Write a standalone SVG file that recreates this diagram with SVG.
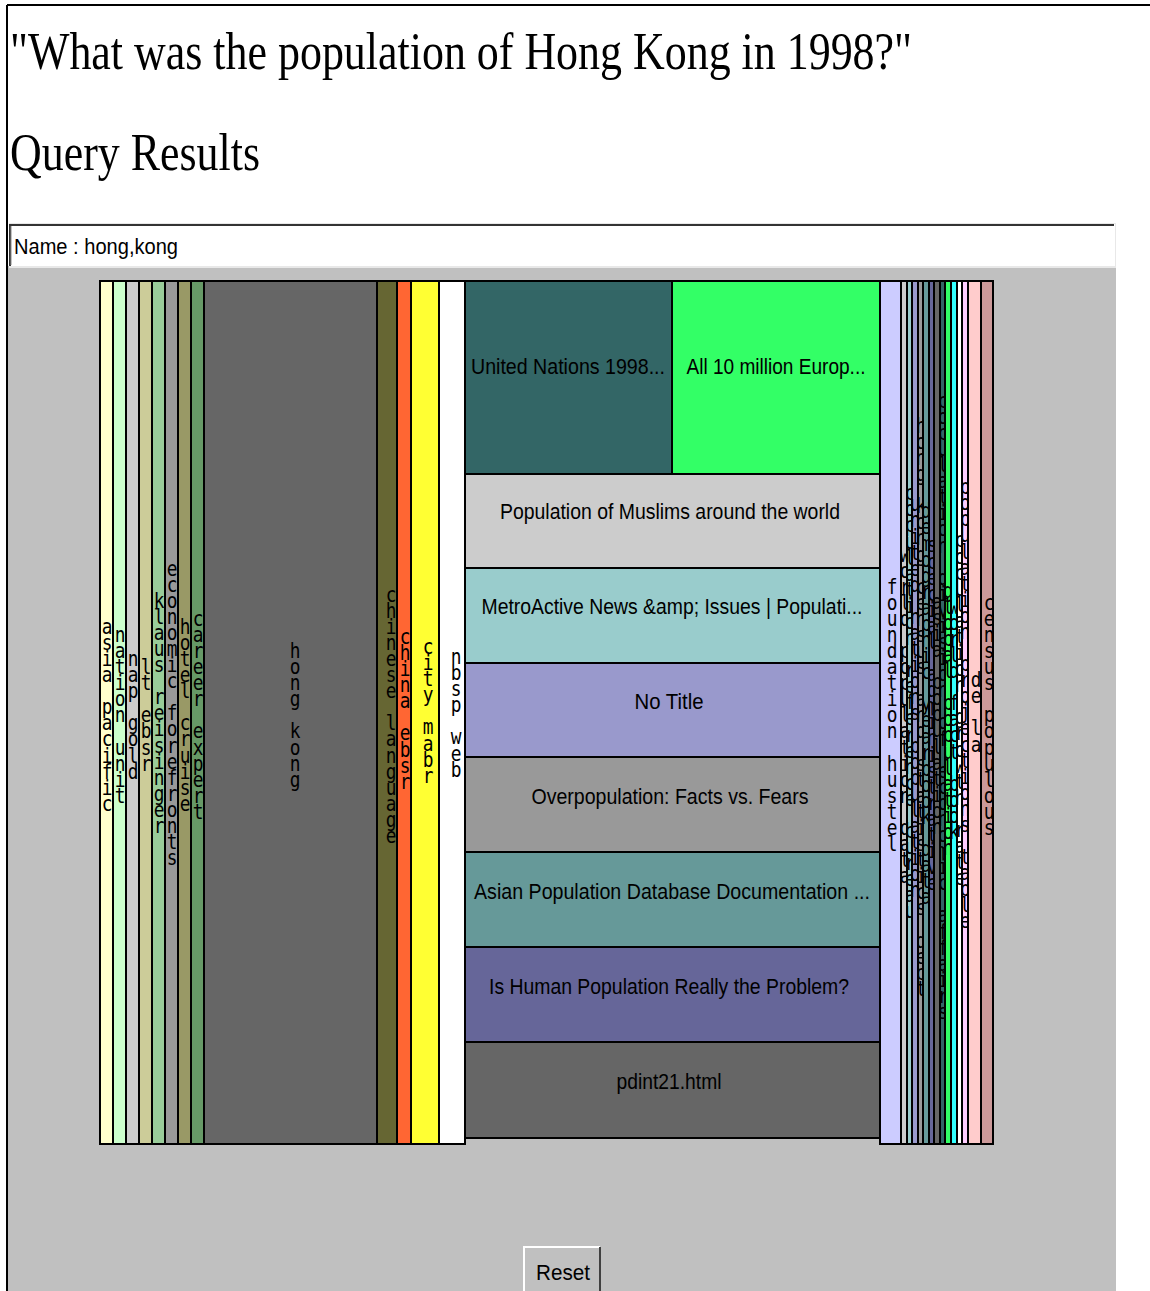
<svg xmlns="http://www.w3.org/2000/svg" width="1150" height="1291" viewBox="0 0 1150 1291">
  <style>
    .serif { font-family: "Liberation Serif", "Times New Roman", serif; fill: #000; }
    .ui { font-family: "Liberation Sans", Arial, sans-serif; font-size: 22px; fill: #000; }
    .lbl { font-family: "Liberation Sans", Arial, sans-serif; font-size: 22px; fill: #000; text-anchor: middle; }
    .c { stroke: #000; stroke-width: 2; }
    .v { font-family: "DejaVu Sans Mono", monospace; font-size: 21px; writing-mode: vertical-rl; text-orientation: upright; text-anchor: middle; letter-spacing: -8.7px; fill: #000; }
  </style>

  <!-- page -->
  <rect x="0" y="0" width="1150" height="1291" fill="#fff"/>
  <line x1="7" y1="5" x2="1150" y2="5" stroke="#000" stroke-width="2"/>
  <line x1="7" y1="5" x2="7" y2="1291" stroke="#000" stroke-width="2"/>

  <g id="heading">
    <text class="serif" transform="translate(10,69) scale(1,1.1)" font-size="48" textLength="902" lengthAdjust="spacingAndGlyphs">"What was the population of Hong Kong in 1998?"</text>
    <text class="serif" transform="translate(10,170) scale(1,1.1)" font-size="48" textLength="250" lengthAdjust="spacingAndGlyphs">Query Results</text>
  </g>

  <!-- applet panel -->
  <rect x="8" y="266" width="1108" height="1025" fill="#c0c0c0"/>

  <g id="query-field">
    <rect x="9" y="223" width="1107" height="45" fill="#e8e8e8"/>
    <rect x="10" y="224" width="1105" height="42" fill="#fff"/>
    <path d="M10 266 V225 H1114" fill="none" stroke="#333" stroke-width="2"/>
    <path d="M11 265 V226" fill="none" stroke="#888" stroke-width="1"/>
    <text class="ui" x="14" y="254" textLength="164" lengthAdjust="spacingAndGlyphs">Name : hong,kong</text>
  </g>

  <!-- treemap of result groups; narrow labels sit in clipping viewports -->
  <g id="treemap">
    <g id="n-asia-pacific"><rect class="c" x="100" y="281" width="13" height="863" fill="#ffffcc"/>
      <svg x="101" y="281" width="12" height="862" overflow="hidden"><text class="v" transform="translate(6,430) scale(0.85,1)">asia pacific</text></svg></g>
    <g id="n-nation-unit"><rect class="c" x="113" y="281" width="13" height="863" fill="#ccffcc"/>
      <svg x="114" y="281" width="12" height="862" overflow="hidden"><text class="v" transform="translate(6,430) scale(0.85,1)">nation unit</text></svg></g>
    <g id="n-nap-gold"><rect class="c" x="126" y="281" width="13" height="863" fill="#cccccc"/>
      <svg x="127" y="281" width="12" height="862" overflow="hidden"><text class="v" transform="translate(6,430) scale(0.85,1)">nap gold</text></svg></g>
    <g id="n-lt-ebsr"><rect class="c" x="139" y="281" width="13" height="863" fill="#cccc99"/>
      <svg x="140" y="281" width="12" height="862" overflow="hidden"><text class="v" transform="translate(6,430) scale(0.85,1)">lt ebsr</text></svg></g>
    <g id="n-klaus"><rect class="c" x="152" y="281" width="13" height="863" fill="#99cc99"/>
      <svg x="153" y="281" width="12" height="862" overflow="hidden"><text class="v" transform="translate(6,428) scale(0.85,1)">klaus reisinger</text></svg></g>
    <g id="n-economic"><rect class="c" x="165" y="281" width="13" height="863" fill="#999999"/>
      <svg x="166" y="281" width="12" height="862" overflow="hidden"><text class="v" transform="translate(6,428) scale(0.85,1)">economic forefronts</text></svg></g>
    <g id="n-hotel"><rect class="c" x="178" y="281" width="13" height="863" fill="#999966"/>
      <svg x="179" y="281" width="12" height="862" overflow="hidden"><text class="v" transform="translate(6,430) scale(0.85,1)">hotel cruise</text></svg></g>
    <g id="n-career"><rect class="c" x="191" y="281" width="13" height="863" fill="#669966"/>
      <svg x="192" y="281" width="12" height="862" overflow="hidden"><text class="v" transform="translate(6,430) scale(0.85,1)">career expert</text></svg></g>
    <g id="n-hong-kong"><rect class="c" x="204" y="281" width="173" height="863" fill="#666666"/>
      <text class="v" transform="translate(295,711) scale(0.85,1)">hong kong</text></g>
    <g id="n-chinese-language"><rect class="c" x="377" y="281" width="20" height="863" fill="#666633"/>
      <svg x="378" y="281" width="19" height="862" overflow="hidden"><text class="v" transform="translate(13,430) scale(0.85,1)">chinese language</text></svg></g>
    <g id="n-china-ebsr"><rect class="c" x="397" y="281" width="14" height="863" fill="#ff6633"/>
      <svg x="398" y="281" width="13" height="862" overflow="hidden"><text class="v" transform="translate(7,424) scale(0.85,1)">china ebsr</text></svg></g>
    <g id="n-city-mabr"><rect class="c" x="411" y="281" width="28" height="863" fill="#ffff33"/>
      <text class="v" transform="translate(428,707) scale(0.85,1)">city mabr</text></g>
    <g id="n-nbsp-web"><rect class="c" x="439" y="281" width="26" height="863" fill="#ffffff"/>
      <text class="v" transform="translate(456,709) scale(0.85,1)">nbsp web</text></g>

    <!-- population documents -->
    <g id="n-un-1998"><rect class="c" x="465" y="281" width="207" height="193" fill="#336666"/>
      <text class="lbl" x="568" y="374" textLength="194" lengthAdjust="spacingAndGlyphs">United Nations 1998...</text></g>
    <g id="n-all-10-million"><rect class="c" x="672" y="281" width="208" height="193" fill="#33ff66"/>
      <text class="lbl" x="776" y="374" textLength="179" lengthAdjust="spacingAndGlyphs">All 10 million Europ...</text></g>
    <g id="n-muslims"><rect class="c" x="465" y="474" width="415" height="94" fill="#cccccc"/>
      <text class="lbl" x="670" y="519" textLength="340" lengthAdjust="spacingAndGlyphs">Population of Muslims around the world</text></g>
    <g id="n-metroactive"><rect class="c" x="465" y="568" width="415" height="95" fill="#99cccc"/>
      <text class="lbl" x="672" y="614" textLength="381" lengthAdjust="spacingAndGlyphs">MetroActive News &amp;amp; Issues | Populati...</text></g>
    <g id="n-no-title"><rect class="c" x="465" y="663" width="415" height="94" fill="#9999cc"/>
      <text class="lbl" x="669" y="709" textLength="69" lengthAdjust="spacingAndGlyphs">No Title</text></g>
    <g id="n-overpopulation"><rect class="c" x="465" y="757" width="415" height="95" fill="#999999"/>
      <text class="lbl" x="670" y="804" textLength="277" lengthAdjust="spacingAndGlyphs">Overpopulation: Facts vs. Fears</text></g>
    <g id="n-asian-db"><rect class="c" x="465" y="852" width="415" height="95" fill="#669999"/>
      <text class="lbl" x="672" y="899" textLength="396" lengthAdjust="spacingAndGlyphs">Asian Population Database Documentation ...</text></g>
    <g id="n-human-population"><rect class="c" x="465" y="947" width="415" height="95" fill="#666699"/>
      <text class="lbl" x="669" y="994" textLength="360" lengthAdjust="spacingAndGlyphs">Is Human Population Really the Problem?</text></g>
    <g id="n-pdint21"><rect class="c" x="465" y="1042" width="415" height="96" fill="#666666"/>
      <text class="lbl" x="669" y="1089" textLength="105" lengthAdjust="spacingAndGlyphs">pdint21.html</text></g>

    <!-- right-hand strips -->
    <g id="n-foundation"><rect class="c" x="880" y="281" width="21" height="863" fill="#ccccff"/>
      <svg x="881" y="281" width="20" height="862" overflow="hidden"><text class="v" transform="translate(11,430) scale(0.85,1)">foundation hustel</text></svg></g>
    <g id="n-r0"><rect class="c" x="901" y="281" width="6" height="863" fill="#cccccc"/>
      <svg x="902" y="281" width="5" height="862" overflow="hidden"><text class="v" transform="translate(3,430) scale(0.85,1)">world population data</text></svg></g>
    <g id="n-r1"><rect class="c" x="907" y="281" width="5" height="863" fill="#99cccc"/>
      <svg x="908" y="281" width="4" height="862" overflow="hidden"><text class="v" transform="translate(2,417) scale(0.85,1)">population reference bureau</text></svg></g>
    <g id="n-r2"><rect class="c" x="912" y="281" width="6" height="863" fill="#9999cc"/>
      <svg x="913" y="281" width="5" height="862" overflow="hidden"><text class="v" transform="translate(2,412) scale(0.85,1)">united nations population</text></svg></g>
    <g id="n-r3"><rect class="c" x="918" y="281" width="5" height="863" fill="#999999"/>
      <svg x="919" y="281" width="4" height="862" overflow="hidden"><text class="v" transform="translate(2,422) scale(0.85,1)">hong kong census and statistics dept</text></svg></g>
    <g id="n-r4"><rect class="c" x="923" y="281" width="6" height="863" fill="#669999"/>
      <svg x="924" y="281" width="5" height="862" overflow="hidden"><text class="v" transform="translate(2,419) scale(0.85,1)">demographic yearbook data</text></svg></g>
    <g id="n-r5"><rect class="c" x="929" y="281" width="5" height="863" fill="#666699"/>
      <svg x="930" y="281" width="4" height="862" overflow="hidden"><text class="v" transform="translate(2,429) scale(0.85,1)">special administrative</text></svg></g>
    <g id="n-r6"><rect class="c" x="934" y="281" width="6" height="863" fill="#666666"/>
      <svg x="935" y="281" width="5" height="862" overflow="hidden"><text class="v" transform="translate(2,429) scale(0.85,1)">asia population</text></svg></g>
    <g id="n-r7"><rect class="c" x="940" y="281" width="5" height="863" fill="#336666"/>
      <svg x="941" y="281" width="4" height="862" overflow="hidden"><text class="v" transform="translate(2,421) scale(0.85,1)">population division of economic affairs</text></svg></g>
    <g id="n-r8"><rect class="c" x="945" y="281" width="6" height="863" fill="#33ff66"/>
      <svg x="946" y="281" width="5" height="862" overflow="hidden"><text class="v" transform="translate(2,434) scale(0.85,1)">global population</text></svg></g>
    <g id="n-r9"><rect class="c" x="951" y="281" width="6" height="863" fill="#33ffff"/>
      <svg x="952" y="281" width="5" height="862" overflow="hidden"><text class="v" transform="translate(2,434) scale(0.85,1)">world fact book</text></svg></g>
    <g id="n-r10"><rect class="c" x="957" y="281" width="5" height="863" fill="#ffffff"/>
      <svg x="958" y="281" width="4" height="862" overflow="hidden"><text class="v" transform="translate(2,424) scale(0.85,1)">population growth rate</text></svg></g>
    <g id="n-r11"><rect class="c" x="962" y="281" width="6" height="863" fill="#ffccff"/>
      <svg x="963" y="281" width="5" height="862" overflow="hidden"><text class="v" transform="translate(2,419) scale(0.85,1)">population projections table</text></svg></g>
    <g id="n-de-la"><rect class="c" x="968" y="281" width="13" height="863" fill="#ffcccc"/>
      <svg x="969" y="281" width="12" height="862" overflow="hidden"><text class="v" transform="translate(7,427) scale(0.85,1)">de la</text></svg></g>
    <g id="n-census"><rect class="c" x="981" y="281" width="12" height="863" fill="#cc9999"/>
      <svg x="982" y="281" width="11" height="862" overflow="hidden"><text class="v" transform="translate(7,430) scale(0.85,1)">census populous</text></svg></g>
  </g>

  <!-- there are no connectors in this view -->
  <g id="connectors"/>

  <g id="reset-button">
    <rect x="524" y="1247" width="76" height="48" fill="#c0c0c0"/>
    <path d="M524 1291 V1247 H600" fill="none" stroke="#fff" stroke-width="2"/>
    <path d="M600 1247 V1291" fill="none" stroke="#404040" stroke-width="2"/>
    <text class="ui" x="563" y="1280" text-anchor="middle" font-size="22" textLength="54" lengthAdjust="spacingAndGlyphs">Reset</text>
  </g>
</svg>
